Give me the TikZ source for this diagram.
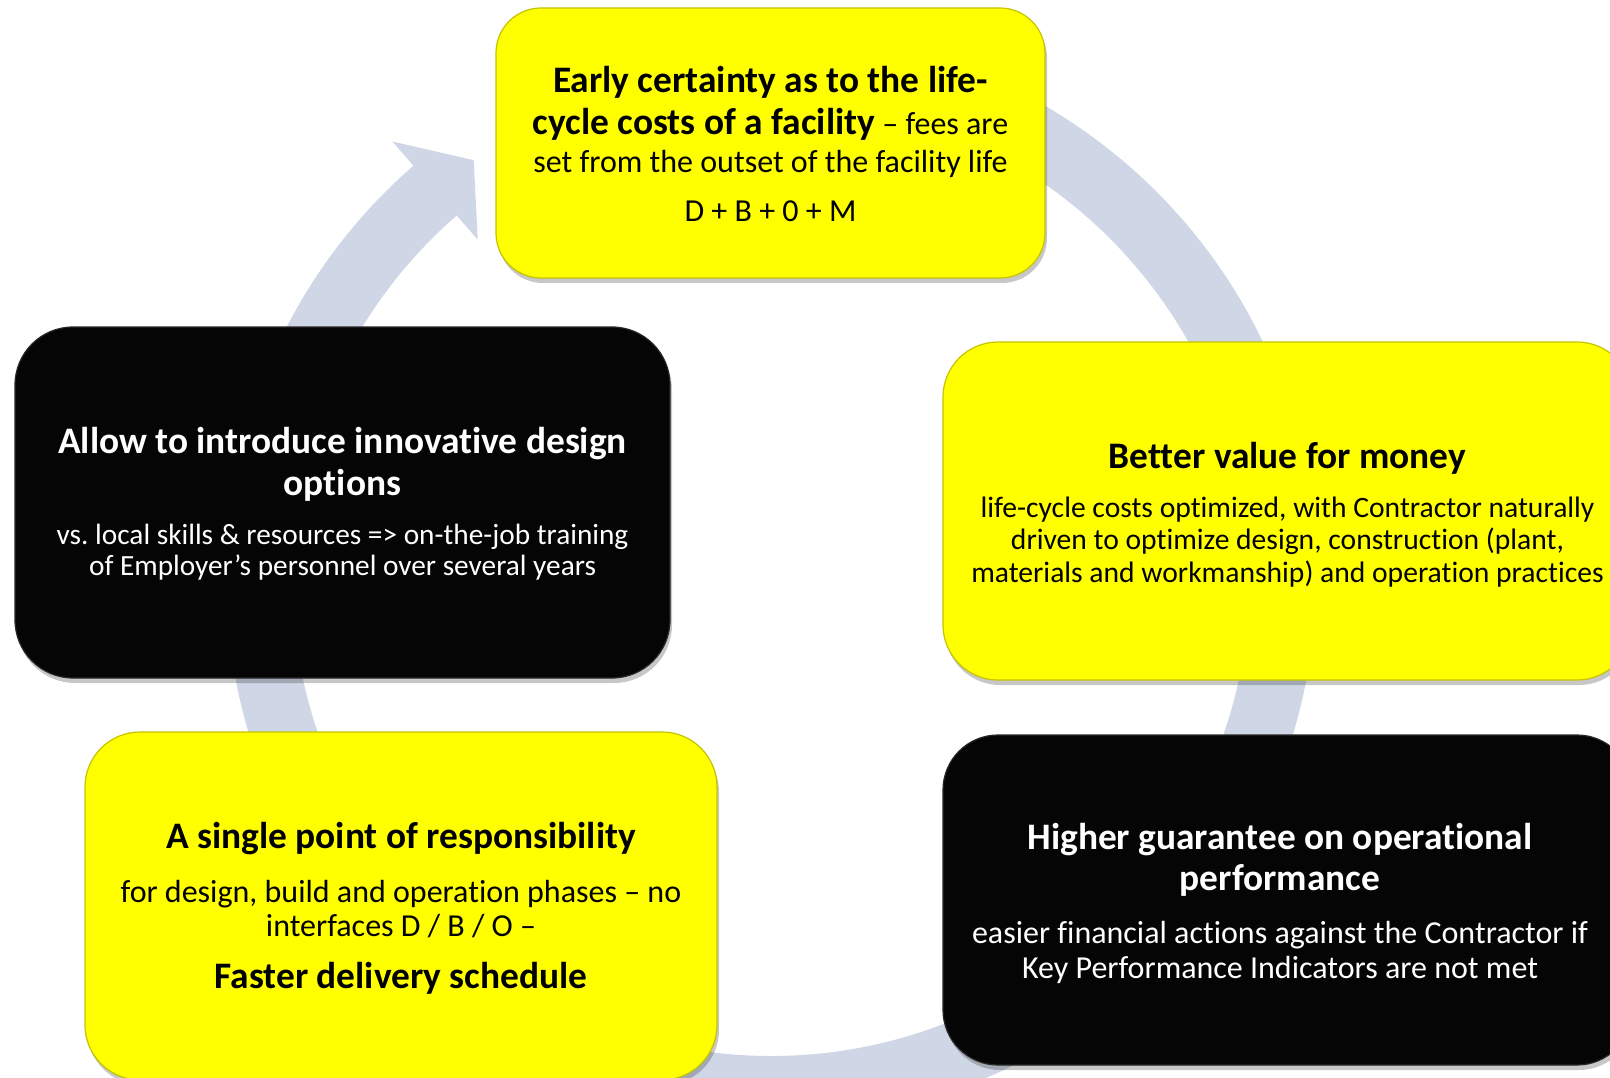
\documentclass[tikz,border=0pt]{standalone}
\usepackage{fontspec}
\setmainfont{Carlito}[Ligatures={TeX,NoCommon}]
\usetikzlibrary{shadows}
\definecolor{ringc}{RGB}{207,214,230}
\definecolor{boxy}{RGB}{255,255,0}
\definecolor{boxyedge}{RGB}{196,196,0}
\definecolor{boxk}{RGB}{5,5,5}
\definecolor{boxkedge}{RGB}{40,40,40}
\newcommand{\tb}{\fontsize{37.4}{32}\selectfont\bfseries}
\tikzset{
  boxshadow/.style={drop shadow={shadow xshift=2pt, shadow yshift=-5pt, opacity=0.22, fill=black}},
  ybox/.style={rectangle, draw=boxyedge, line width=1.2pt, fill=boxy, rounded corners=#1,
    boxshadow, inner sep=0pt},
  kbox/.style={rectangle, draw=boxkedge, line width=1.2pt, fill=boxk, rounded corners=#1,
    boxshadow, inner sep=0pt},
  ybox/.default=55pt,
  kbox/.default=55pt,
  ttext/.style={align=center, inner sep=0pt,
    font={\fontsize{#1}{32}\selectfont\lineskiplimit=-100pt\frenchspacing}},
}
\begin{document}
\begin{tikzpicture}[x=1pt,y=-1pt]
\useasboundingbox (0,0) rectangle (1610,1078);
\clip (0,0) rectangle (1610,1078);
\fill[white] (0,0) rectangle (1610,1078);

% circular arrow
\begin{scope}[shift={(771,577)}]
\fill[ringc] (95:545pt) arc[start angle=95, end angle=-229, radius=545pt]
  -- (131:577pt) -- (125.5:512pt) -- (131:447pt) -- (131:479pt)
  arc[start angle=131, end angle=455, radius=479pt] -- cycle;
\end{scope}

% boxes
\node[ybox=45pt, minimum width=549pt, minimum height=270pt] (top) at (770.5,143) {};
\node[kbox=58pt, minimum width=655pt, minimum height=351pt] (left) at (342.5,502.5) {};
\node[ybox, minimum width=689pt, minimum height=338pt] (right) at (1287.5,511) {};
\node[ybox, minimum width=632pt, minimum height=348pt] (bleft) at (401,906) {};
\node[kbox, minimum width=689pt, minimum height=330pt] (bright) at (1287.5,900) {};

% texts
\node[ttext=32, text=black] (toptext) at (770.5,144)
 {{\tb Early certainty as to the life-}\\[10pt]
  {\tb cycle costs of a facility} – fees are\\[6pt]
  set from the outset of the facility life\\[17pt]
  D + B + 0 + M};

\node[ttext=29.3, text=white] (lefttext) at (342.5,504)
 {{\tb Allow to introduce innovative design}\\[10pt]
  {\tb options}\\[17pt]
  vs. local skills \& resources => on-the-job training\\[-1pt]
  of Employer’s personnel over several years};

\node[ttext=29.6, text=black] (righttext) at (1287.5,515)
 {{\tb Better value for money}\\[17pt]
  life-cycle costs optimized, with Contractor naturally\\[0pt]
  driven to optimize design, construction (plant,\\[1pt]
  materials and workmanship) and operation practices};

\node[ttext=32, text=black] (blefttext) at (401,908)
 {{\tb A single point of responsibility}\\[22pt]
  for design, build and operation phases – no\\[2pt]
  interfaces D / B / O –\\[20pt]
  {\tb Faster delivery schedule}};

\node[ttext=32, text=white] (brighttext) at (1280,903.5)
 {{\tb Higher guarantee on operational}\\[9pt]
  {\tb performance}\\[21pt]
  easier financial actions against the Contractor if\\[3pt]
  Key Performance Indicators are not met};
\end{tikzpicture}
\end{document}
